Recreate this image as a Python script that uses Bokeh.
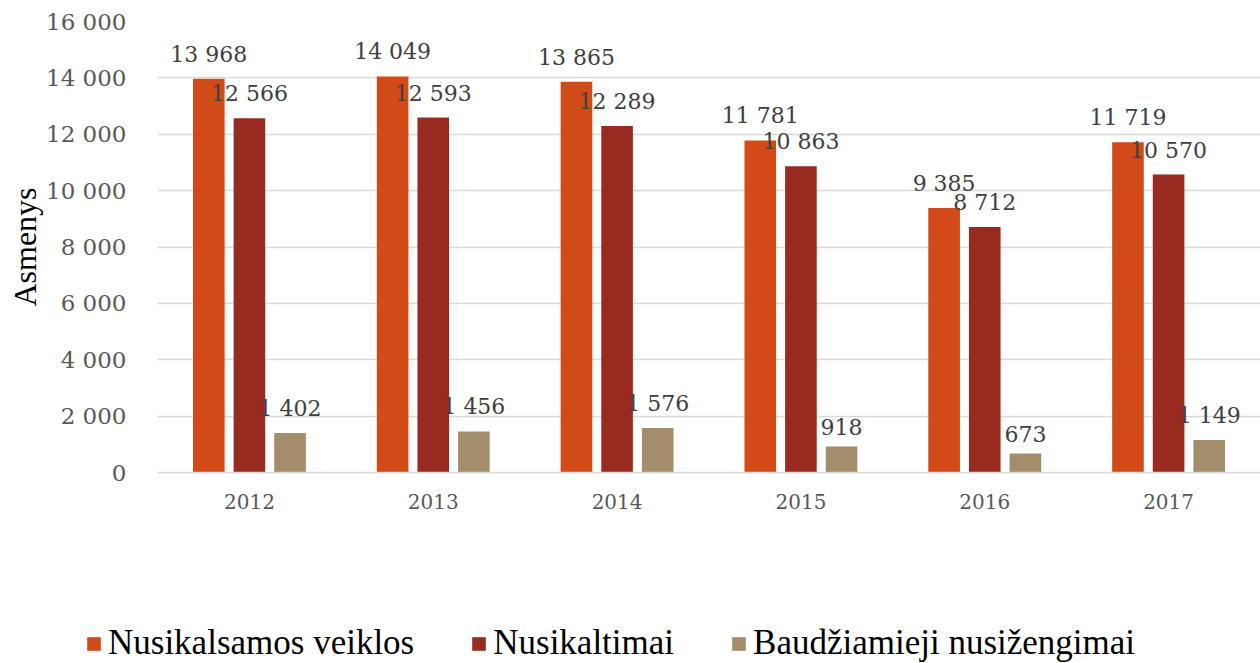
from bokeh.plotting import figure
from bokeh.layouts import column
from bokeh.models import (ColumnDataSource, FixedTicker, CustomJSTickFormatter, Legend,
                          LegendItem, Range1d)
from bokeh.transform import dodge
from bokeh.core.properties import value
from bokeh.embed import file_html
from bokeh.resources import INLINE

years = ["2012", "2013", "2014", "2015", "2016", "2017"]
veiklos = [13968, 14049, 13865, 11781, 9385, 11719]
nusikaltimai = [12566, 12593, 12289, 10863, 8712, 10570]
nusizengimai = [1402, 1456, 1576, 918, 673, 1149]
series_names = ["Nusikalsamos veiklos", "Nusikaltimai", "Baudžiamieji nusižengimai"]
colors = ["#D24A18", "#992A20", "#A48D6B"]
y_ticks = [0, 2000, 4000, 6000, 8000, 10000, 12000, 14000, 16000]

def fmt(v):
    return f"{v:,}".replace(",", " ")

xs = list(range(len(years)))
src = ColumnDataSource(dict(
    x=xs,
    v1=veiklos, v2=nusikaltimai, v3=nusizengimai,
    l1=[fmt(v) for v in veiklos], l2=[fmt(v) for v in nusikaltimai], l3=[fmt(v) for v in nusizengimai],
))

W = 1260
H1, H2 = 530, 133
p = figure(width=W, height=H1, output_backend="svg", toolbar_location=None,
           x_range=Range1d(-0.5, 5.5), y_range=Range1d(0, 16000),
           min_border_left=157, min_border_right=0, min_border_top=21, min_border_bottom=H1 - 472)
p.outline_line_color = None
p.background_fill_color = "white"
p.frame_align = False

num_font = "DejaVu Serif"
txt_font = "Liberation Serif"
offsets = [-0.221, 0.0, 0.221]
for i, col in enumerate(["v1", "v2", "v3"]):
    p.vbar(x=dodge("x", offsets[i]), top=col, width=0.172, source=src,
           fill_color=colors[i], line_color=None)
for i, (col, lab) in enumerate([("v1", "l1"), ("v2", "l2"), ("v3", "l3")]):
    p.text(x=dodge("x", offsets[i]), y=col, text=lab, source=src,
           text_align="center", text_baseline="bottom", y_offset=-12,
           text_font=value(num_font), text_font_size="22px", text_color="#404040")

p.xgrid.grid_line_color = None
p.ygrid.grid_line_color = "#D9D9D9"
p.ygrid.grid_line_width = 1.5
p.yaxis.ticker = FixedTicker(ticks=y_ticks)
p.yaxis.formatter = CustomJSTickFormatter(code="return tick.toString().replace(/\\B(?=(\\d{3})+(?!\\d))/g, ' ');")
p.yaxis.axis_line_color = None
p.yaxis.major_tick_line_color = None
p.yaxis.minor_tick_line_color = None
p.yaxis.major_label_text_font = num_font
p.yaxis.major_label_text_font_size = "23px"
p.yaxis.major_label_text_color = "#595959"
p.yaxis.major_label_standoff = 25
p.yaxis.axis_label = "Asmenys"
p.yaxis.axis_label_text_font = txt_font
p.yaxis.axis_label_text_font_size = "32px"
p.yaxis.axis_label_text_font_style = "normal"
p.yaxis.axis_label_text_color = "black"
p.yaxis.axis_label_standoff = 0

p.xaxis.ticker = FixedTicker(ticks=xs)
p.xaxis.major_label_overrides = {i: y for i, y in enumerate(years)}
p.xaxis.axis_line_color = "#D9D9D9"
p.xaxis.axis_line_width = 1.5
p.xaxis.major_tick_line_color = None
p.xaxis.minor_tick_line_color = None
p.xaxis.major_label_text_font = num_font
p.xaxis.major_label_text_font_size = "20px"
p.xaxis.major_label_text_color = "#595959"
p.xaxis.major_label_standoff = 15

# legend panel below the chart
lg = figure(width=W, height=H2, output_backend="svg", toolbar_location=None,
            x_axis_type=None, y_axis_type=None, x_range=Range1d(0, 1), y_range=Range1d(0, 1),
            min_border=0)
lg.frame_align = False
lg.outline_line_color = None
lg.xgrid.grid_line_color = None
lg.ygrid.grid_line_color = None
nan = float("nan")
dummy = ColumnDataSource(dict(x=[nan], top=[nan]))
leg_renderers = [lg.vbar(x="x", top="top", width=0.1, source=dummy, fill_color=c, line_color=None)
                 for c in colors]
legend = Legend(items=[LegendItem(label=n, renderers=[r]) for n, r in zip(series_names, leg_renderers)],
                orientation="horizontal", location=(85, 0),
                glyph_width=17, glyph_height=17, label_standoff=6, spacing=56,
                padding=0, margin=0, border_line_color=None, background_fill_alpha=0,
                label_text_font=txt_font, label_text_font_size="35px", label_text_color="black")
lg.add_layout(legend, "center")

layout = column(p, lg, spacing=0)
open("out.html", "w").write(file_html(layout, INLINE))
